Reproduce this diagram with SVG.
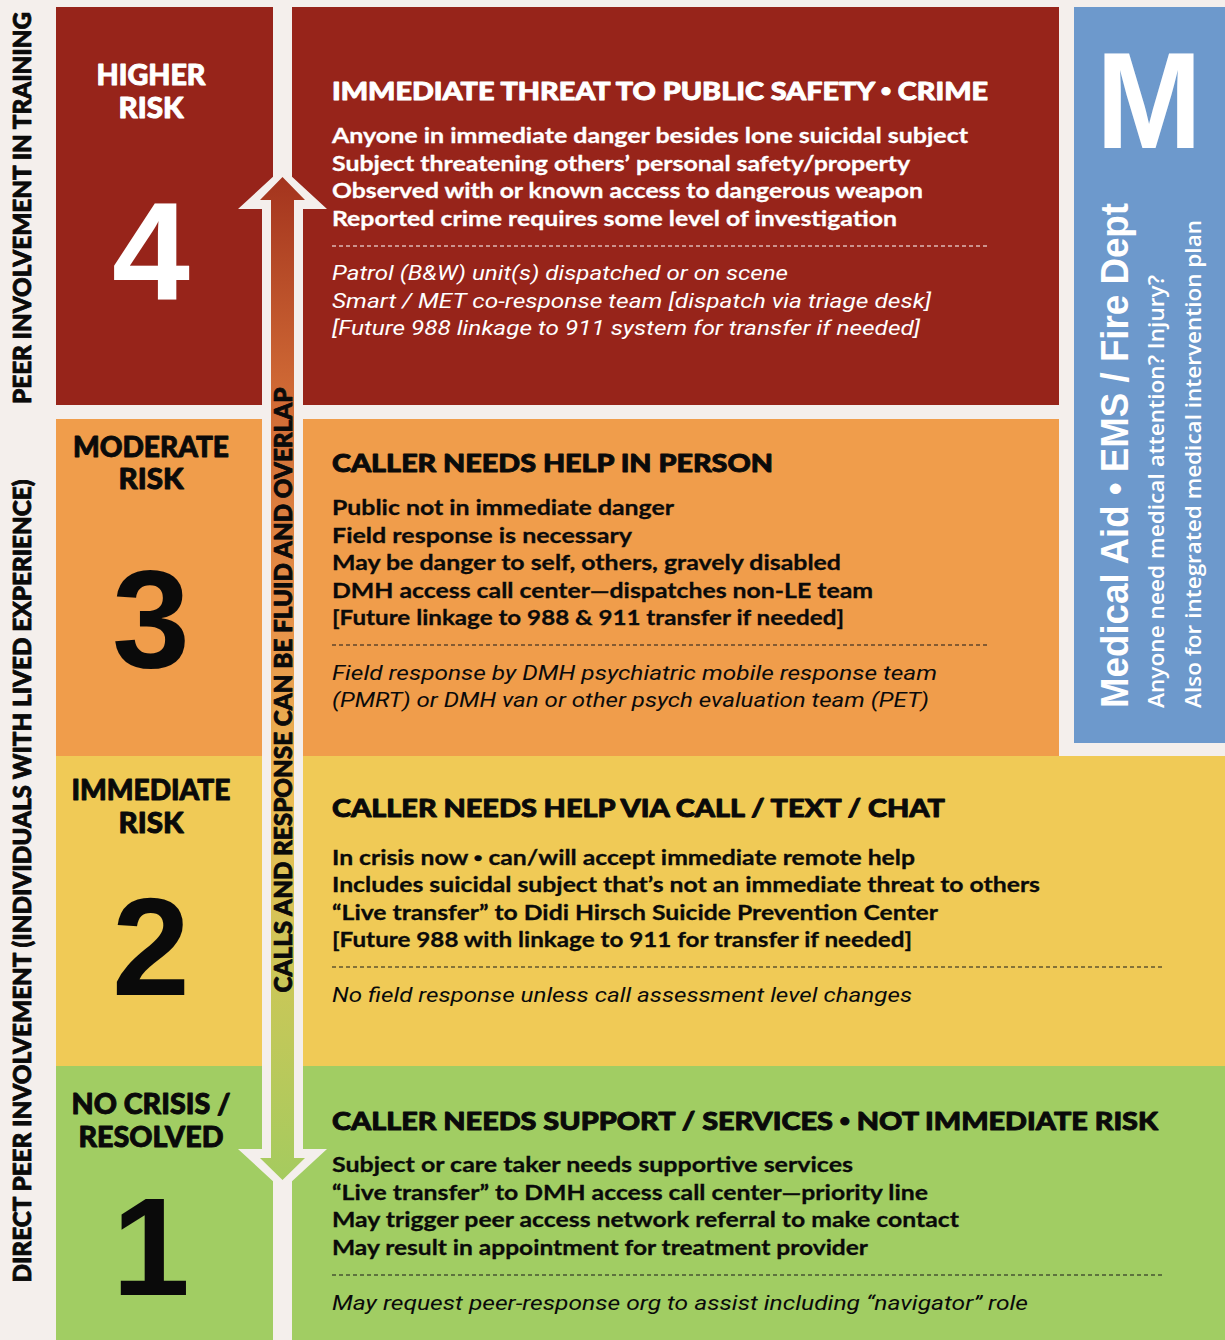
<svg xmlns="http://www.w3.org/2000/svg" width="1225" height="1340" viewBox="0 0 1225 1340">
<defs>
<linearGradient id="arrowGrad" gradientUnits="userSpaceOnUse" x1="0" y1="170" x2="0" y2="1190">
<stop offset="0" stop-color="#a2321d"/>
<stop offset="0.22" stop-color="#d06a35"/>
<stop offset="0.45" stop-color="#e8944a"/>
<stop offset="0.62" stop-color="#ecbd55"/>
<stop offset="0.8" stop-color="#c9c758"/>
<stop offset="1" stop-color="#a3cb5f"/>
</linearGradient>
<style>
.bg{fill:#f4efec}
.r4{fill:#97241a}
.r3{fill:#f09d4b}
.r2{fill:#f0ca56}
.r1{fill:#a1cd63}
.med{fill:#6d99cc}
.hd{font-family:Lato,"Open Sans",sans-serif;font-weight:900;font-size:25px;stroke-width:0.9px;stroke-linejoin:round}
.bd{font-family:Lato,"Open Sans",sans-serif;font-weight:700;font-size:21px;stroke-width:0.3px}
.it{font-family:Roboto,"Liberation Sans",sans-serif;font-style:italic;font-weight:400;font-size:21px}
.lbl{font-family:Lato,"Open Sans",sans-serif;font-weight:900;font-size:28px;text-anchor:middle;stroke-width:0.9px;stroke-linejoin:round}
.num{font-family:"Liberation Sans",Arial,sans-serif;font-weight:700;font-size:140px;text-anchor:middle}
.side{font-family:Lato,"Open Sans",sans-serif;font-weight:900;font-size:24px;text-anchor:middle;stroke-width:0.8px;stroke-linejoin:round}
.w{fill:#ffffff;stroke:#ffffff}
.k{fill:#0a0a0a;stroke:#0a0a0a}
.it.w,.it.k,.num{stroke:none}
.bul{font-family:"Liberation Sans",Arial,sans-serif}
.dashW{stroke:#ffffff;stroke-width:1.2;stroke-dasharray:4 3;fill:none}
.dashK{stroke:#1a1a1a;stroke-width:1.2;stroke-dasharray:4 3;fill:none}
.mt{font-family:"Liberation Sans",Arial,sans-serif;font-weight:700;fill:#ffffff}
.ms{font-family:"Open Sans","Liberation Sans",sans-serif;font-weight:600;font-size:21px;fill:#ffffff}
</style>
</defs>
<rect class="bg" x="0" y="0" width="1225" height="1340"/>

<g id="side-labels">
<text class="side k" transform="translate(31,208) rotate(-90)" textLength="392" lengthAdjust="spacingAndGlyphs">PEER INVOLVEMENT IN TRAINING</text>
<text class="side k" transform="translate(31,881) rotate(-90)" textLength="803" lengthAdjust="spacingAndGlyphs">DIRECT PEER INVOLVEMENT (INDIVIDUALS WITH LIVED EXPERIENCE)</text>
</g>

<g id="level-4">
<rect class="r4" x="56" y="7" width="217" height="398"/>
<rect class="r4" x="292" y="7" width="767" height="398"/>
<text class="lbl w" x="151" y="85" textLength="109" lengthAdjust="spacingAndGlyphs">HIGHER</text>
<text class="lbl w" x="151" y="118" textLength="65" lengthAdjust="spacingAndGlyphs">RISK</text>
<text class="num w" x="151" y="300">4</text>
<text class="hd w" x="332" y="100" textLength="656" lengthAdjust="spacingAndGlyphs">IMMEDIATE THREAT TO PUBLIC SAFETY <tspan class="bul">•</tspan> CRIME</text>
<text class="bd w" x="332" y="143" textLength="636" lengthAdjust="spacingAndGlyphs">Anyone in immediate danger besides lone suicidal subject</text>
<text class="bd w" x="332" y="171" textLength="578" lengthAdjust="spacingAndGlyphs">Subject threatening others’ personal safety/property</text>
<text class="bd w" x="332" y="198" textLength="591" lengthAdjust="spacingAndGlyphs">Observed with or known access to dangerous weapon</text>
<text class="bd w" x="332" y="226" textLength="565" lengthAdjust="spacingAndGlyphs">Reported crime requires some level of investigation</text>
<line class="dashW" x1="332" y1="246" x2="987" y2="246"/>
<text class="it w" x="332" y="280" textLength="456" lengthAdjust="spacingAndGlyphs">Patrol (B&amp;W) unit(s) dispatched or on scene</text>
<text class="it w" x="332" y="308" textLength="599" lengthAdjust="spacingAndGlyphs">Smart / MET co-response team [dispatch via triage desk]</text>
<text class="it w" x="332" y="335" textLength="588" lengthAdjust="spacingAndGlyphs">[Future 988 linkage to 911 system for transfer if needed]</text>
</g>

<g id="level-3">
<rect class="r3" x="56" y="419" width="217" height="337"/>
<rect class="r3" x="292" y="419" width="767" height="337"/>
<text class="lbl k" x="151" y="457" textLength="156" lengthAdjust="spacingAndGlyphs">MODERATE</text>
<text class="lbl k" x="151" y="489" textLength="65" lengthAdjust="spacingAndGlyphs">RISK</text>
<text class="num k" x="151" y="667">3</text>
<text class="hd k" x="332" y="472" textLength="441" lengthAdjust="spacingAndGlyphs">CALLER NEEDS HELP IN PERSON</text>
<text class="bd k" x="332" y="515" textLength="342" lengthAdjust="spacingAndGlyphs">Public not in immediate danger</text>
<text class="bd k" x="332" y="543" textLength="300" lengthAdjust="spacingAndGlyphs">Field response is necessary</text>
<text class="bd k" x="332" y="570" textLength="509" lengthAdjust="spacingAndGlyphs">May be danger to self, others, gravely disabled</text>
<text class="bd k" x="332" y="598" textLength="541" lengthAdjust="spacingAndGlyphs">DMH access call center—dispatches non-LE team</text>
<text class="bd k" x="332" y="625" textLength="512" lengthAdjust="spacingAndGlyphs">[Future linkage to 988 &amp; 911 transfer if needed]</text>
<line class="dashK" x1="332" y1="645" x2="987" y2="645"/>
<text class="it k" x="332" y="680" textLength="605" lengthAdjust="spacingAndGlyphs">Field response by DMH psychiatric mobile response team</text>
<text class="it k" x="332" y="707" textLength="597" lengthAdjust="spacingAndGlyphs">(PMRT) or DMH van or other psych evaluation team (PET)</text>
</g>

<g id="level-2">
<rect class="r2" x="56" y="756" width="217" height="310"/>
<rect class="r2" x="292" y="756" width="933" height="310"/>
<text class="lbl k" x="151" y="800" textLength="159" lengthAdjust="spacingAndGlyphs">IMMEDIATE</text>
<text class="lbl k" x="151" y="833" textLength="65" lengthAdjust="spacingAndGlyphs">RISK</text>
<text class="num k" x="151" y="995">2</text>
<text class="hd k" x="332" y="817" textLength="613" lengthAdjust="spacingAndGlyphs">CALLER NEEDS HELP VIA CALL / TEXT / CHAT</text>
<text class="bd k" x="332" y="865" textLength="583" lengthAdjust="spacingAndGlyphs">In crisis now <tspan class="bul">•</tspan> can/will accept immediate remote help</text>
<text class="bd k" x="332" y="892" textLength="708" lengthAdjust="spacingAndGlyphs">Includes suicidal subject that’s not an immediate threat to others</text>
<text class="bd k" x="332" y="920" textLength="606" lengthAdjust="spacingAndGlyphs">“Live transfer” to Didi Hirsch Suicide Prevention Center</text>
<text class="bd k" x="332" y="947" textLength="580" lengthAdjust="spacingAndGlyphs">[Future 988 with linkage to 911 for transfer if needed]</text>
<line class="dashK" x1="332" y1="967" x2="1162" y2="967"/>
<text class="it k" x="332" y="1002" textLength="580" lengthAdjust="spacingAndGlyphs">No field response unless call assessment level changes</text>
</g>

<g id="level-1">
<rect class="r1" x="56" y="1066" width="217" height="274"/>
<rect class="r1" x="292" y="1066" width="933" height="274"/>
<text class="lbl k" x="151" y="1114" textLength="159" lengthAdjust="spacingAndGlyphs">NO CRISIS /</text>
<text class="lbl k" x="151" y="1147" textLength="145" lengthAdjust="spacingAndGlyphs">RESOLVED</text>
<text class="num k" x="151" y="1295">1</text>
<text class="hd k" x="332" y="1130" textLength="826" lengthAdjust="spacingAndGlyphs">CALLER NEEDS SUPPORT / SERVICES <tspan class="bul">•</tspan> NOT IMMEDIATE RISK</text>
<text class="bd k" x="332" y="1172" textLength="521" lengthAdjust="spacingAndGlyphs">Subject or care taker needs supportive services</text>
<text class="bd k" x="332" y="1200" textLength="596" lengthAdjust="spacingAndGlyphs">“Live transfer” to DMH access call center—priority line</text>
<text class="bd k" x="332" y="1227" textLength="627" lengthAdjust="spacingAndGlyphs">May trigger peer access network referral to make contact</text>
<text class="bd k" x="332" y="1255" textLength="536" lengthAdjust="spacingAndGlyphs">May result in appointment for treatment provider</text>
<line class="dashK" x1="332" y1="1275" x2="1162" y2="1275"/>
<text class="it k" x="332" y="1310" textLength="696" lengthAdjust="spacingAndGlyphs">May request peer-response org to assist including “navigator” role</text>
</g>

<g id="medical-panel">
<rect class="med" x="1074" y="7" width="151" height="736"/>
<text class="mt" x="1149" y="148" font-size="137" text-anchor="middle" textLength="106" lengthAdjust="spacingAndGlyphs">M</text>
<text class="mt" font-size="39" transform="translate(1128,708) rotate(-90)" textLength="505" lengthAdjust="spacingAndGlyphs">Medical Aid • EMS / Fire Dept</text>
<text class="ms" transform="translate(1164,708) rotate(-90)" textLength="433" lengthAdjust="spacingAndGlyphs">Anyone need medical attention? Injury?</text>
<text class="ms" transform="translate(1201,708) rotate(-90)" textLength="488" lengthAdjust="spacingAndGlyphs">Also for integrated medical intervention plan</text>
</g>

<g id="connectors">
<polygon class="bg" points="282.5,168 327,209 303,209 303,1149 327,1149 282.5,1190 238,1149 262,1149 262,209 238,209"/>
<polygon fill="url(#arrowGrad)" points="282.5,177 305,200 294,200 294,1158 305,1158 282.5,1180 260,1158 271,1158 271,200 260,200"/>
<text class="side k" transform="translate(292,690) rotate(-90)" textLength="605" lengthAdjust="spacingAndGlyphs">CALLS AND RESPONSE CAN BE FLUID AND OVERLAP</text>
</g>
</svg>
